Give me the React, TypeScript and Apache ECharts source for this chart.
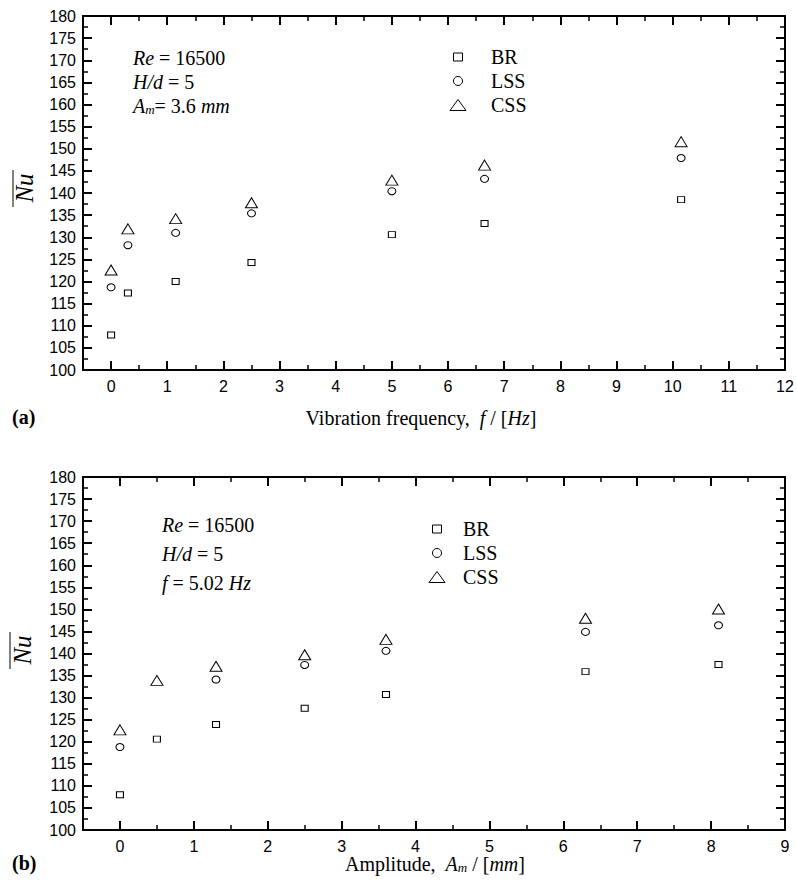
import React, { useEffect, useRef } from 'react';
import * as echarts from 'echarts';

// ---- data ----
const FREQ = [0, 0.3, 1.15, 2.5, 5.0, 6.65, 10.15];
const BR_A = [107.9, 117.4, 120.0, 124.3, 130.6, 133.1, 138.5];
const LSS_A = [118.7, 128.2, 131.0, 135.4, 140.4, 143.2, 147.9];
const CSS_A = [122.6, 131.9, 134.2, 137.8, 142.9, 146.3, 151.6];

const AMP = [0, 0.5, 1.3, 2.5, 3.6, 6.3, 8.1];
const BR_B = [108.0, 120.6, 123.9, 127.6, 130.7, 135.9, 137.5];
const LSS_B = [118.8, null, 134.1, 137.4, 140.6, 144.9, 146.4];
const CSS_B = [122.7, 133.9, 137.1, 139.7, 143.2, 148.0, 150.1];

const SERIES_NAMES = ['BR', 'LSS', 'CSS'];
const Y_MIN = 100;
const Y_MAX = 180;
const Y_STEP = 5;
const XA_RANGE = [-0.5, 12];
const XB_RANGE = [-0.5, 9];

const SERIF = '"Liberation Serif", "Times New Roman", serif';
const SANS = '"Liberation Sans", Arial, sans-serif';

function xAxes(grid: number, min: number, max: number) {
  const base: any = {
    gridIndex: grid,
    type: 'value',
    min,
    max,
    splitLine: { show: false },
    axisLine: { show: true, onZero: false, lineStyle: { color: '#000', width: 2 } },
  };
  const major: any = {
    ...base,
    minInterval: 1,
    maxInterval: 1,
    splitNumber: Math.round(max - min),
    axisTick: { show: true, inside: true, length: 9, lineStyle: { color: '#000', width: 2 } },
  };
  const minor: any = {
    ...base,
    interval: 1,
    axisLine: { show: false, onZero: false },
    axisTick: { show: true, inside: true, length: 5, lineStyle: { color: '#000', width: 1.5 } },
    axisLabel: { show: false },
  };
  return [
    {
      ...major,
      position: 'bottom',
      axisLabel: {
        show: true,
        formatter: (v: number) => (Number.isInteger(v) ? String(v) : ''),
        color: '#000',
        fontFamily: SANS,
        fontSize: 16,
        margin: 8,
      },
    },
    { ...minor, position: 'bottom' },
    { ...major, position: 'top', axisLabel: { show: false } },
    { ...minor, position: 'top' },
  ];
}

function yAxes(grid: number) {
  const base: any = {
    gridIndex: grid,
    type: 'value',
    min: Y_MIN,
    max: Y_MAX,
    interval: Y_STEP,
    splitLine: { show: false },
    axisLine: { show: true, onZero: false, lineStyle: { color: '#000', width: 2 } },
    axisTick: { show: true, inside: true, length: 9, lineStyle: { color: '#000', width: 2 } },
    minorTick: { show: true, splitNumber: 2, length: 5, lineStyle: { color: '#000', width: 1.5 } },
  };
  return [
    {
      ...base,
      position: 'left',
      axisLabel: { color: '#000', fontFamily: SANS, fontSize: 16, margin: 7 },
    },
    { ...base, position: 'right', axisLabel: { show: false } },
  ];
}

const SYMBOLS: any[] = [
  { symbol: 'rect', size: [7, 6] },
  { symbol: 'circle', size: [8, 7] },
  { symbol: 'triangle', size: [12, 10] },
];

function scatter(grid: number, xs: number[], ys: (number | null)[], k: number) {
  return {
    type: 'scatter',
    name: SERIES_NAMES[k],
    xAxisIndex: grid * 4,
    yAxisIndex: grid * 2,
    symbol: SYMBOLS[k].symbol,
    symbolSize: SYMBOLS[k].size,
    itemStyle: { color: '#fff', borderColor: '#000', borderWidth: 1, opacity: 1 },
    emphasis: { disabled: true },
    data: xs.map((x, i) => (ys[i] == null ? null : [x, ys[i]])).filter((d) => d !== null),
  };
}

const RICH = {
  r: { fontFamily: SERIF, fontSize: 20, lineHeight: 18 },
  b: { fontFamily: SERIF, fontSize: 20, fontWeight: 'bold', lineHeight: 18 },
  i: { fontStyle: 'italic', fontFamily: SERIF, fontSize: 20, lineHeight: 18 },
  sub: { fontStyle: 'italic', fontFamily: SERIF, fontSize: 13, lineHeight: 18, padding: [7, 0, 0, 0] },
};

function txt(x: number, y: number, text: string, align: string = 'left') {
  return {
    type: 'text',
    silent: true,
    style: {
      x,
      y,
      text,
      fill: '#000',
      fontFamily: SERIF,
      fontSize: 20,
      lineHeight: 18,
      align,
      textAlign: align,
      verticalAlign: 'middle',
      textVerticalAlign: 'middle',
      rich: RICH,
    },
  };
}

function legend(cx: number, tx: number, ys: number[]) {
  const st = { fill: '#fff', stroke: '#000', lineWidth: 1 };
  return [
    { type: 'rect', silent: true, shape: { x: cx - 4.5, y: ys[0] - 4, width: 9, height: 8 }, style: st },
    { type: 'circle', silent: true, shape: { cx, cy: ys[1], r: 4.5 }, style: st },
    {
      type: 'polygon',
      silent: true,
      shape: { points: [[cx - 8, ys[2] + 5.5], [cx + 8, ys[2] + 5.5], [cx, ys[2] - 5.5]] },
      style: st,
    },
    txt(tx, ys[0], `{r|${SERIES_NAMES[0]}}`),
    txt(tx, ys[1], `{r|${SERIES_NAMES[1]}}`),
    txt(tx, ys[2], `{r|${SERIES_NAMES[2]}}`),
  ];
}

function nuLabel(cx: number, cy: number, lineX: number) {
  return [
    {
      type: 'text',
      silent: true,
      rotation: Math.PI / 2,
      x: cx,
      y: cy,
      style: {
        x: 0,
        y: 0,
        text: 'Nu',
        fill: '#000',
        fontFamily: SERIF,
        fontStyle: 'italic',
        fontSize: 25,
        align: 'center',
        textAlign: 'center',
        verticalAlign: 'middle',
        textVerticalAlign: 'middle',
      },
    },
    {
      type: 'line',
      silent: true,
      shape: { x1: lineX, y1: cy - 18, x2: lineX, y2: cy + 19 },
      style: { stroke: '#000', lineWidth: 1 },
    },
  ];
}

export default function App() {
  const ref = useRef<HTMLDivElement>(null);
  useEffect(() => {
    document.body.style.margin = '0';
    const chart = echarts.init(ref.current!, null, { renderer: 'svg' });
    const option: any = {
      animation: false,
      backgroundColor: '#fff',
      grid: [
        { left: 83, top: 16, width: 702, height: 354 },
        { left: 83, top: 477, width: 702, height: 353 },
      ],
      xAxis: [...xAxes(0, XA_RANGE[0], XA_RANGE[1]), ...xAxes(1, XB_RANGE[0], XB_RANGE[1])],
      yAxis: [...yAxes(0), ...yAxes(1)],
      series: [
        scatter(0, FREQ, BR_A, 0),
        scatter(0, FREQ, LSS_A, 1),
        scatter(0, FREQ, CSS_A, 2),
        scatter(1, AMP, BR_B, 0),
        scatter(1, AMP, LSS_B, 1),
        scatter(1, AMP, CSS_B, 2),
      ],
      graphic: [
        // panel (a) annotations
        txt(133, 58, '{i|Re}{r| = 16500}'),
        txt(133, 82, '{i|H/d}{r| = 5}'),
        txt(133, 106, '{i|A}{sub|m}{r|= 3.6 }{i|mm}'),
        ...legend(458, 491, [57, 81, 105]),
        txt(421, 418, '{r|Vibration frequency,  }{i|f}{r| / [}{i|Hz}{r|]}', 'center'),
        txt(12, 417, '{b|(a)}'),
        ...nuLabel(24, 188, 13),
        // panel (b) annotations
        txt(162, 525, '{i|Re}{r| = 16500}'),
        txt(162, 554, '{i|H/d}{r| = 5}'),
        txt(162, 583, '{i|f}{r| = 5.02 }{i|Hz}'),
        ...legend(437, 463, [529, 553, 577]),
        txt(435, 864, '{r|Amplitude,  }{i|A}{sub|m}{r| / [}{i|mm}{r|]}', 'center'),
        txt(12, 863, '{b|(b)}'),
        ...nuLabel(22, 650, 10),
      ],
    };
    chart.setOption(option);
    return () => chart.dispose();
  }, []);
  return (
    <div
      ref={ref}
      style={{ position: 'absolute', left: 0, top: 0, width: 797, height: 887, background: '#fff' }}
    />
  );
}
